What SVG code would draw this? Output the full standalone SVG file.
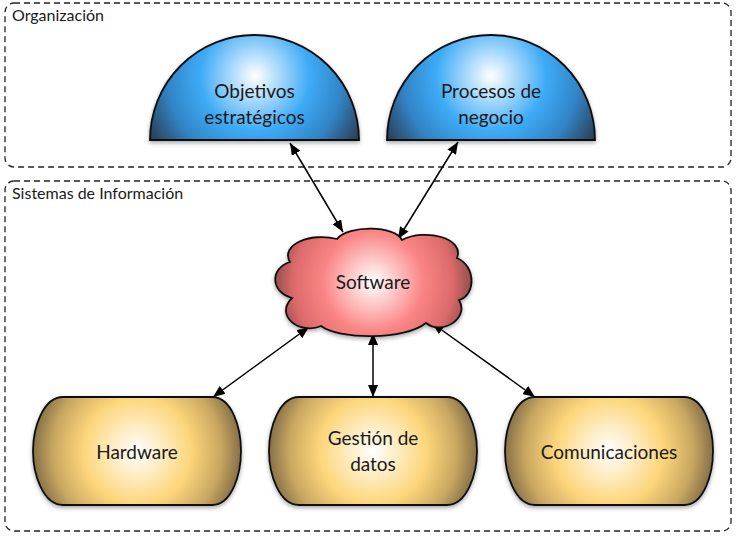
<svg xmlns="http://www.w3.org/2000/svg" width="736" height="536" viewBox="0 0 736 536">
<defs>
<radialGradient id="gBlue1" gradientUnits="userSpaceOnUse" cx="255" cy="76" r="122">
<stop offset="0" stop-color="#ffffff"/>
<stop offset="0.45" stop-color="#3eabf7"/>
<stop offset="0.72" stop-color="#3184c6"/>
<stop offset="1" stop-color="#2b3b4e"/>
</radialGradient>
<radialGradient id="gBlue2" href="#gBlue1" cx="491" cy="76" r="122"/>
<radialGradient id="gRed" gradientUnits="userSpaceOnUse" cx="373" cy="282" r="100">
<stop offset="0" stop-color="#ffffff"/>
<stop offset="0.5" stop-color="#fb8585"/>
<stop offset="0.8" stop-color="#dc6a6a"/>
<stop offset="1" stop-color="#8a4c4c"/>
</radialGradient>
<radialGradient id="gGold1" gradientUnits="userSpaceOnUse" cx="137" cy="451" r="112">
<stop offset="0" stop-color="#ffffff"/>
<stop offset="0.48" stop-color="#fdd67a"/>
<stop offset="0.75" stop-color="#c9a761"/>
<stop offset="1" stop-color="#6a5a3e"/>
</radialGradient>
<radialGradient id="gGold2" href="#gGold1" cx="373" cy="451" r="112"/>
<radialGradient id="gGold3" href="#gGold1" cx="609" cy="451" r="112"/>
<filter id="sh" x="-10%" y="-10%" width="120%" height="130%">
<feDropShadow dx="0" dy="2" stdDeviation="2" flood-color="#000" flood-opacity="0.35"/>
</filter>
<marker id="ah" viewBox="0 0 12 10" refX="12" refY="5" markerWidth="12" markerHeight="10" markerUnits="userSpaceOnUse" orient="auto-start-reverse">
<path d="M0,0 L12,5 L0,10 Z" fill="#000"/>
</marker>
</defs>
<style>
.grp{fill:none;stroke:#222;stroke-width:1.3;stroke-dasharray:6,4}
.gl{font-family:Lato,"Liberation Sans",sans-serif;font-size:16px;fill:#1a1a1a}
.shape{stroke:#111;stroke-width:1.8;filter:url(#sh)}
.t{font-family:Lato,"Liberation Sans",sans-serif;font-size:19px;fill:#1a1a1a;text-anchor:middle}
.c{stroke:#000;stroke-width:1.5;fill:none;marker-start:url(#ah);marker-end:url(#ah)}
</style>
<rect width="736" height="536" fill="#fff"/>
<g id="organizacion">
<rect class="grp" x="5" y="3" width="726" height="164" rx="9"/>
<text class="gl" x="12" y="21">Organización</text>
</g>
<g id="sistemas">
<rect class="grp" x="5" y="181" width="726" height="350" rx="9"/>
<text class="gl" x="12" y="199">Sistemas de Información</text>
</g>
<g id="connectors">
<line class="c" x1="290" y1="143" x2="343" y2="232"/>
<line class="c" x1="458" y1="142" x2="398" y2="239"/>
<line class="c" x1="309" y1="327" x2="213" y2="397"/>
<line class="c" x1="373" y1="333" x2="373" y2="397"/>
<line class="c" x1="432" y1="323" x2="535" y2="397"/>
</g>
<g id="objetivos">
<path class="shape" fill="url(#gBlue1)" d="M150,140 A104.5,105 0 0 1 359,140 Z"/>
<text class="t" x="254.5" y="98">Objetivos</text>
<text class="t" x="254.5" y="124">estratégicos</text>
</g>
<g id="procesos">
<path class="shape" fill="url(#gBlue2)" d="M387,140 A104,105 0 0 1 595,140 Z"/>
<text class="t" x="491" y="98">Procesos de</text>
<text class="t" x="491" y="124">negocio</text>
</g>
<g id="software">
<path class="shape" fill="url(#gRed)" d="M290,262 C280,245 310,232 337,239 C348,225 395,225 402,240 C425,228 465,238 457,258 C476,266 476,295 459,300 C470,318 442,336 426,323 C405,340 340,340 321,326 C300,335 274,316 292,298 C270,292 270,268 290,262 Z"/>
<text class="t" x="373" y="289">Software</text>
</g>
<g id="hardware">
<path class="shape" fill="url(#gGold1)" d="M63,397 L212,397 C232,397 241,428 241,451 C241,474 232,505 212,505 L63,505 C43,505 33,474 33,451 C33,428 43,397 63,397 Z"/>
<text class="t" x="137" y="459">Hardware</text>
</g>
<g id="gestion">
<path class="shape" fill="url(#gGold2)" d="M299,397 L447,397 C467,397 477,428 477,451 C477,474 467,505 447,505 L299,505 C279,505 269,474 269,451 C269,428 279,397 299,397 Z"/>
<text class="t" x="373" y="445">Gestión de</text>
<text class="t" x="373" y="471">datos</text>
</g>
<g id="comunicaciones">
<path class="shape" fill="url(#gGold3)" d="M535,397 L684,397 C704,397 713,428 713,451 C713,474 704,505 684,505 L535,505 C515,505 505,474 505,451 C505,428 515,397 535,397 Z"/>
<text class="t" x="609" y="459">Comunicaciones</text>
</g>
</svg>
